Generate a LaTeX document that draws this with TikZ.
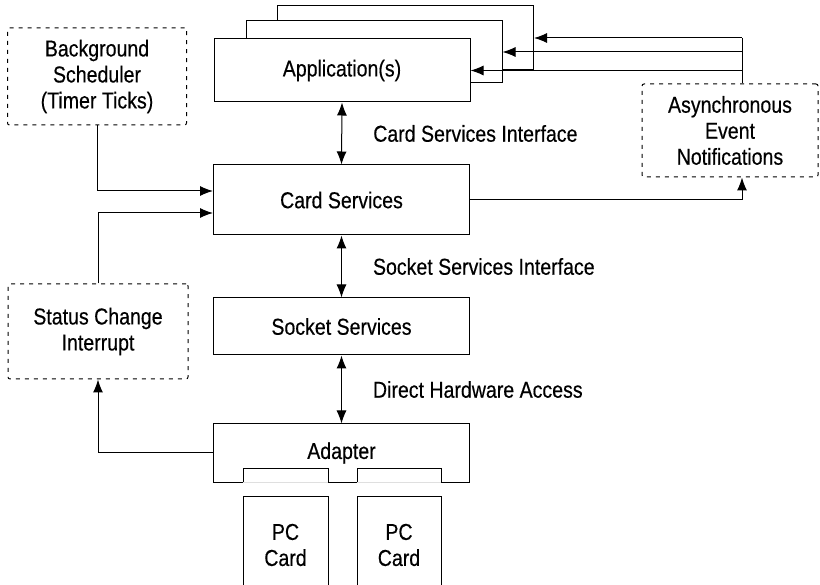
\documentclass[tikz,border=0pt]{standalone}
\usepackage{fontspec}
\setmainfont{Liberation Sans}[FakeStretch=0.85,FakeBold=0.4]
\usetikzlibrary{arrows.meta}
\begin{document}
\begin{tikzpicture}[x=1pt,y=-1pt,line width=1pt,
  >={Latex[length=13pt,width=10pt]},
  font=\fontsize{23}{26}\selectfont,
  box/.style={draw,fill=white,minimum width=256pt,inner sep=0pt},
  event/.style={draw,dash pattern=on 4pt off 5pt,rounded corners=2pt,align=center,inner sep=0pt},
  lbl/.style={right,xshift=31pt,inner sep=0pt}]
\useasboundingbox (0,0) rectangle (820,585);

\node(A3)[box,minimum height=64pt] at (405.5,38) {};
\node(A2)[box,minimum height=62pt] at (374,52) {};
\node(A)[box,minimum height=63pt] at (342,70.5) {Application(s)};
\node(CS)[box,minimum height=70pt] at (341.5,200) {Card Services};
\node(SS)[box,minimum height=57pt] at (341.5,326.5) {Socket Services};
\node(AD)[minimum width=255pt,minimum height=58pt,inner sep=0pt] at (341.5,453) {Adapter};

\node(BG)[event,minimum width=179pt,minimum height=97pt] at (97,76.5) {Background\\Scheduler\\(Timer Ticks)};
\node(SC)[event,minimum width=180pt,minimum height=95pt] at (98,331.5) {Status Change\\Interrupt};
\node(AE)[event,minimum width=176pt,minimum height=93pt] at (730,130.5) {Asynchronous\\Event\\Notifications};

% adapter with two slots
\draw (AD.north west) -- (AD.north east) -- (AD.south east) -- ++(-28,0) -- ++(0,-14) -- ++(-84,0) -- ++(0,14)
  -- ++(-29,0) -- ++(0,-14) -- ++(-85,0) -- ++(0,14) -- (AD.south west) -- cycle;
\draw[gray!25] (243,482) -- (328,482) (357,482) -- (441,482);

\node(P1)[align=center,inner sep=0pt] at (285.5,545) {PC\\Card};
\node(P2)[align=center,inner sep=0pt] at (399,545) {PC\\Card};
\draw (243,585) |- (328,496) -- (328,585);
\draw (357,585) |- (441,496) -- (441,585);

\draw[<->] (A.south) -- node[lbl]{Card Services Interface} (CS.north);
\draw[<->] (CS.south) -- node[lbl]{Socket Services Interface} (SS.north);
\draw[<->] (SS.south) -- node[lbl]{Direct Hardware Access} (AD.north);

\draw[->] (BG.south) |- ([yshift=9pt]CS.west);
\draw[->] (SC.north) |- ([yshift=-13pt]CS.west);
\draw[->] (AD.west) -| (SC.south);
\draw[->] (CS.east) -| ([xshift=12pt]AE.south);

\coordinate(bus) at (742,38);
\draw ([xshift=12pt]AE.north) -- (bus);
\foreach \a in {A3,A2,A}
  \draw[->] (bus |- \a) -- (\a);

\end{tikzpicture}
\end{document}
